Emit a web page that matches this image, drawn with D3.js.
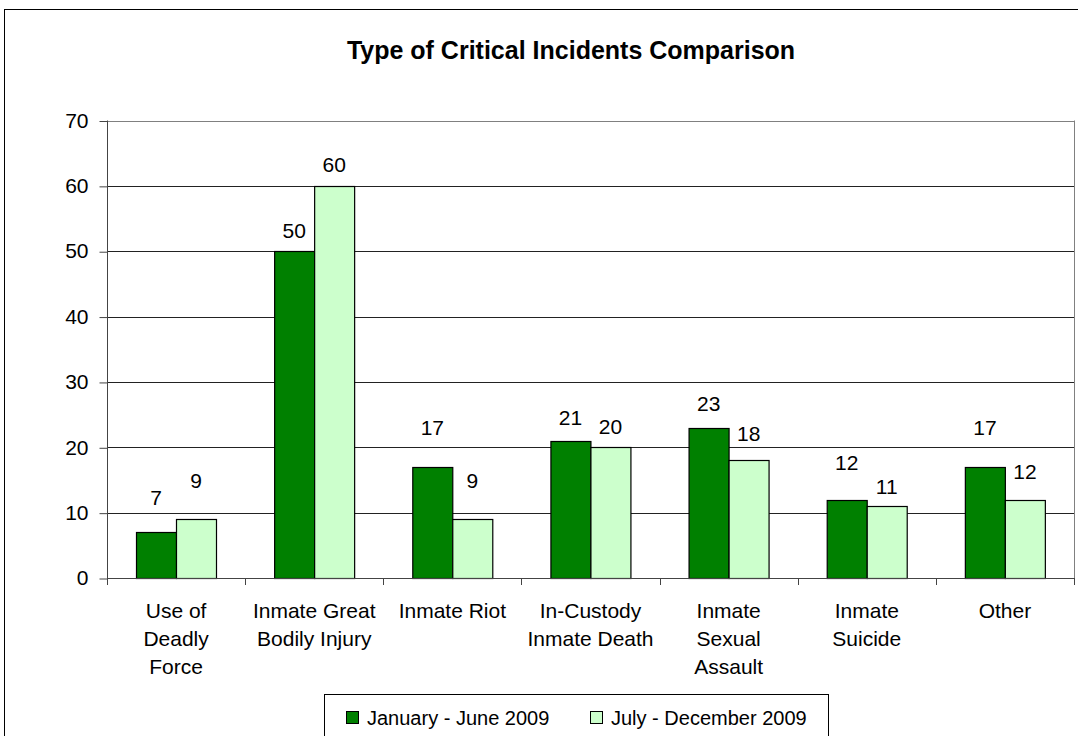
<!DOCTYPE html>
<html>
<head>
<meta charset="utf-8">
<script src="https://cdn.jsdelivr.net/npm/d3@7"></script>
<style>
  body { margin: 0; background: #fff; }
  svg text { font-family: "Liberation Sans", Arial, sans-serif; fill: #000; }
</style>
</head>
<body>
<div id="chart"></div>
<script>
// categories (multi-line labels split on \n)
var categories = ["Use of\nDeadly\nForce", "Inmate Great\nBodily Injury", "Inmate Riot",
                  "In-Custody\nInmate Death", "Inmate\nSexual\nAssault", "Inmate\nSuicide", "Other"];
var seriesNames = ["January - June 2009", "July - December 2009"];
var firstHalf = [7, 50, 17, 21, 23, 12, 17];
var secondHalf = [9, 60, 9, 20, 18, 11, 12];
var yTicks = [0, 10, 20, 30, 40, 50, 60, 70];
var colors = ["#008000", "#ccffcc"];

// labels were dragged by hand in the original, px above each bar top
var labelLift = [[35, 21, 39, 23, 24, 37, 39], [39, 21, 39, 21, 27, 20, 28]];

var width = 1078, height = 736;
var plot = { left: 107, right: 1074, top: 120.5, bottom: 578 };

var svg = d3.select("#chart").append("svg")
    .attr("width", width)
    .attr("height", height);

// outer chart frame (runs past the picture on right/bottom)
svg.append("rect")
    .attr("x", 4.5).attr("y", 9.5)
    .attr("width", 1090).attr("height", 760)
    .attr("fill", "#fff").attr("stroke", "#000");

// title
svg.append("text")
    .attr("x", 571).attr("y", 59)
    .attr("text-anchor", "middle")
    .attr("font-size", "25px")
    .attr("font-weight", "bold")
    .text("Type of Critical Incidents Comparison");

var x = d3.scaleBand().domain(d3.range(categories.length))
    .range([plot.left, plot.right]).paddingInner(0).paddingOuter(0);
var xs = d3.scaleBand().domain([0, 1])
    .range([0, x.bandwidth()]).paddingInner(0).paddingOuter(0.727);
var y = d3.scaleLinear().domain([0, 70]).range([plot.bottom, plot.top]);

// gridlines
svg.append("g").selectAll("line")
    .data(yTicks.slice(1))
    .enter().append("line")
    .attr("x1", plot.left).attr("x2", plot.right)
    .attr("y1", function(d){ return Math.round(y(d)) + 0.5; })
    .attr("y2", function(d){ return Math.round(y(d)) + 0.5; })
    .attr("stroke", function(d){ return d == 70 ? "#808080" : "#222"; })
    .attr("stroke-width", 1);

// right border of plot area
svg.append("line")
    .attr("x1", plot.right + 0.5).attr("x2", plot.right + 0.5)
    .attr("y1", y(70)).attr("y2", plot.bottom)
    .attr("stroke", "#808080");

// y axis
var yAxis = svg.append("g")
    .attr("transform", "translate(" + (plot.left + 0.5) + ",0)")
    .call(d3.axisLeft(y).tickValues(yTicks).tickSize(8).tickPadding(11).tickFormat(d3.format("d")));
yAxis.selectAll("text").attr("font-size", "21px").style("font-family", "Liberation Sans, Arial, sans-serif");
yAxis.selectAll("line").attr("stroke", "#444").attr("transform", "translate(0,0.5)");
yAxis.select(".domain").attr("stroke", "#444").attr("d", "M0," + y(70) + "V" + plot.bottom);

// bars
var groups = svg.append("g").selectAll("g")
    .data(categories.map(function(c, i){ return { i: i, vals: [firstHalf[i], secondHalf[i]] }; }))
    .enter().append("g")
    .attr("transform", function(d){ return "translate(" + x(d.i) + ",0)"; });

groups.selectAll("rect")
    .data(function(d){ return d.vals; })
    .enter().append("rect")
    .attr("x", function(d, j){ return Math.round(xs(j)) + 0.5; })
    .attr("y", function(d){ return Math.round(y(d)) + 0.5; })
    .attr("width", Math.round(xs.bandwidth()))
    .attr("height", function(d){ return Math.round(plot.bottom) - Math.round(y(d)); })
    .attr("fill", function(d, j){ return colors[j]; })
    .attr("stroke", "#000")
    .attr("stroke-width", 1.2);

// value labels
groups.selectAll("text.val")
    .data(function(d){ return d.vals.map(function(v, j){ return { v: v, j: j, i: d.i }; }); })
    .enter().append("text")
    .attr("class", "val")
    .attr("x", function(d){ return xs(d.j) + xs.bandwidth() / 2; })
    .attr("y", function(d){ return y(d.v) - labelLift[d.j][d.i] + 7.5; })
    .attr("text-anchor", "middle")
    .attr("font-size", "21px")
    .text(function(d){ return d.v; });

// x axis baseline and ticks
svg.append("line")
    .attr("x1", plot.left).attr("x2", plot.right + 1)
    .attr("y1", plot.bottom + 0.5).attr("y2", plot.bottom + 0.5)
    .attr("stroke", "#444");
svg.append("g").selectAll("line")
    .data(d3.range(categories.length + 1))
    .enter().append("line")
    .attr("x1", function(i){ return Math.round(plot.left + i * x.step()) + 0.5; })
    .attr("x2", function(i){ return Math.round(plot.left + i * x.step()) + 0.5; })
    .attr("y1", plot.bottom).attr("y2", plot.bottom + 7)
    .attr("stroke", "#444");

// category labels
svg.append("g").selectAll("text")
    .data(categories)
    .enter().append("text")
    .attr("text-anchor", "middle")
    .attr("font-size", "21px")
    .attr("transform", function(d, i){ return "translate(" + (x(i) + x.bandwidth() / 2) + "," + 618 + ")"; })
    .selectAll("tspan")
    .data(function(d){ return d.split("\n"); })
    .enter().append("tspan")
    .attr("x", 0)
    .attr("dy", function(d, k){ return k == 0 ? 0 : 28; })
    .text(function(d){ return d; });

// legend
var legend = svg.append("g");
legend.append("rect")
    .attr("x", 324.5).attr("y", 694.5)
    .attr("width", 504).attr("height", 60)
    .attr("fill", "#fff").attr("stroke", "#000");
var legendX = [346, 590];
seriesNames.forEach(function(name, j){
    legend.append("rect")
        .attr("x", legendX[j] + 0.5).attr("y", 711.5)
        .attr("width", 12).attr("height", 12)
        .attr("fill", colors[j]).attr("stroke", "#000");
    legend.append("text")
        .attr("x", legendX[j] + 21).attr("y", 725)
        .attr("font-size", "20px")
        .text(name);
});
</script>
</body>
</html>
